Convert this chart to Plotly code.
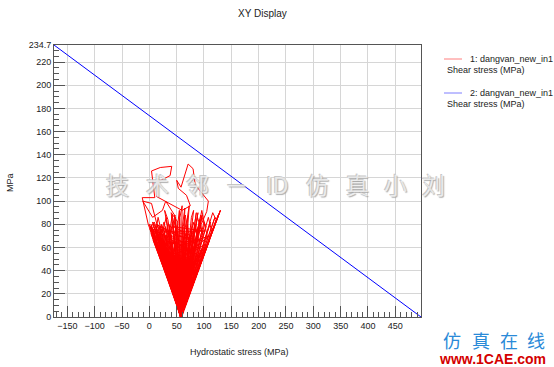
import plotly.graph_objects as go

# ---------------- data ----------------
# Series 1: dangvan_new_in1 Shear stress (MPa) vs hydrostatic stress (MPa) - red loading path
red_x = [
    58, 0, 4, 57, 8, 59, 12, 16, 58, 20,
    57, 24, 28, 58, 32, 59, 36, 30, 58, 40,
    56, 44, 38, 58, 48, 60, 50, 46, 57, 2,
    58, 6, 10, 59, 14, 58, 18, 22, 57, 26,
    58, 30, 34, 60, 38, 58, 42, 36, 57, 46,
    58, 52, 56, 59, 62, 58, 66, 62, 57, 70,
    58, 74, 70, 60, 78, 58, 82, 76, 57, 86,
    58, 90, 84, 59, 94, 58, 98, 92, 57, 102,
    58, 106, 100, 60, 110, 58, 114, 108, 57, 118,
    58, 122, 116, 59, 126, 58, 130, 58, 1, 9,
    57, 13, 5, 58, 17, 21, 59, 25, 19, 58,
    29, 23, 57, 33, 27, 58, 37, 31, 59, 41,
    35, 58, 45, 39, 57, 49, 43, 58, 53, 47,
    59, 55, 50, 58, 64, 60, 57, 68, 64, 58,
    72, 68, 59, 76, 72, 58, 80, 74, 57, 84,
    78, 58, 88, 80, 59, 96, 88, 58, 104, 94,
    57, 112, 58, 120, 58, 3, 11, 59, 7, 15,
    58, 19, 27, 57, 23, 31, 58, 35, 43, 59,
    39, 47, 58, 51, 55, 57, 61, 65, 58, 69,
    73, 59, 77, 81, 58, 85, 89, 57, 93, 97,
    58, 44, 48, 59, 52, 40, 58, 56, 60, 57,
    66, 62, 58, 34, 28, 59, 16, 12, 58, 6,
    57, 64, 70, 58, 82, 86, 59, 101, 96, 58,
    42, 50, 57, 18, 22, 58, 30, 26, 59, 54,
    48, 58, 60, 66, 57, 74, 70, 58, 90, 84,
    59, 24, 14, 58, 8, 3, 57, 36, 42, 58,
    12, 72, 20, 80, 26, 66, 34, 88, 40, 62,
    8, 76, 16, 84, 24, 70, 30, 92, 38, 64,
    44, 96, 48, 60, 50, 100, 42, 78, 18, 68,
    28, 86, 36, 74, 14, 82, 22, 90, 32, 66,
    6, 94, 46, 72, 10, 98, 52, 104, 40, 58,
    3, 60, 26, 80, 46, 110, 56, 20, 70, 36,
    96, 50, 12, 84, 62, 30, 102, 44, 76, 58,
    -2, -13, 10, 4, 20, 41, 38, 17, 13, 41,
    60, 75, 68, 53, 50, 58, 71, 80, 84, 108,
    105, 95, 58, 4, -12, 6, 24, 30, 46, 58,
    88, 96, 58, 130, 58]
red_y = [
    0, 80, 74, 1, 70, 0, 64, 72, 2, 60,
    0, 56, 66, 1, 50, 3, 58, 70, 0, 46,
    2, 52, 64, 0, 44, 1, 58, 70, 0, 78,
    1, 76, 80, 0, 70, 2, 78, 68, 0, 76,
    1, 62, 74, 0, 54, 2, 66, 80, 1, 60,
    0, 48, 62, 2, 40, 0, 54, 68, 1, 46,
    0, 58, 72, 2, 50, 0, 62, 76, 3, 54,
    0, 66, 80, 1, 58, 0, 70, 84, 2, 60,
    0, 70, 82, 1, 66, 0, 74, 86, 2, 78,
    0, 84, 90, 1, 88, 0, 92, 2, 76, 82,
    0, 66, 70, 1, 62, 74, 0, 58, 66, 2,
    54, 62, 0, 48, 60, 1, 44, 56, 0, 40,
    52, 2, 38, 50, 0, 36, 48, 1, 32, 44,
    0, 40, 52, 2, 36, 48, 0, 44, 56, 1,
    50, 64, 0, 56, 68, 2, 60, 70, 0, 64,
    74, 1, 70, 82, 0, 74, 86, 2, 78, 88,
    0, 82, 1, 86, 0, 72, 76, 2, 66, 80,
    0, 70, 82, 1, 72, 86, 0, 66, 82, 2,
    72, 88, 0, 76, 92, 1, 80, 94, 0, 84,
    96, 2, 86, 92, 0, 78, 90, 1, 82, 88,
    0, 76, 86, 1, 82, 90, 0, 86, 96, 2,
    88, 78, 0, 84, 92, 1, 86, 74, 0, 82,
    2, 74, 86, 0, 76, 90, 1, 80, 92, 0,
    62, 74, 1, 64, 80, 0, 78, 68, 2, 66,
    80, 0, 60, 72, 1, 64, 80, 0, 74, 60,
    2, 66, 76, 0, 74, 80, 1, 70, 88, 0,
    68, 22, 64, 30, 58, 14, 54, 40, 46, 8,
    72, 26, 66, 36, 60, 18, 56, 44, 50, 12,
    40, 50, 34, 6, 30, 56, 42, 32, 62, 20,
    52, 46, 44, 24, 70, 38, 58, 48, 48, 16,
    76, 52, 36, 28, 74, 58, 26, 62, 54, 2,
    78, 40, 70, 50, 60, 70, 50, 76, 62, 64,
    66, 70, 80, 64, 72, 74, 74, 78, 70, 0,
    80, 103, 103, 126, 129, 130, 122, 117, 104, 97,
    92, 96, 105, 111, 118, 112, 132, 128, 114, 100,
    91, 80, 0, 98, 100, 86, 92, 100, 88, 0,
    76, 86, 0, 92, 0]

# Series 2: dangvan_new_in1 Shear stress (MPa) - blue Dang Van limit line
blue_x = [-174.4, 497.0]
blue_y = [234.7, 0.0]

x_ticks = [-150, -100, -50, 0, 50, 100, 150, 200, 250, 300, 350, 400, 450]
y_ticks = [0, 20, 40, 60, 80, 100, 120, 140, 160, 180, 200, 220, 234.7]
y_tick_text = ["0", "20", "40", "60", "80", "100", "120", "140", "160", "180", "200", "220", "234.7"]

legend_main = ["1: dangvan_new_in1", "2: dangvan_new_in1"]
legend_sub = ["Shear stress (MPa)", "Shear stress (MPa)"]

FONT = "Liberation Sans"

fig = go.Figure()
fig.add_trace(go.Scatter(x=red_x, y=red_y, mode="lines", line=dict(color="#ff0000", width=1),
                         name=legend_main[0], showlegend=False))
fig.add_trace(go.Scatter(x=blue_x, y=blue_y, mode="lines", line=dict(color="#0000ff", width=1),
                         name=legend_main[1], showlegend=False))

axis_common = dict(showline=True, linecolor="#555555", linewidth=1, mirror=True,
                   showgrid=True, gridcolor="#d6d6d6", gridwidth=1, zeroline=False,
                   ticks="inside", ticklen=11, tickcolor="#555555", tickwidth=1,
                   tickfont=dict(family=FONT, size=9, color="#222222"))

fig.update_xaxes(range=[-174.4, 497.0], tickmode="array", tickvals=x_ticks,
                 minor=dict(tickmode="linear", tick0=0, dtick=10, ticks="inside", ticklen=5,
                            tickcolor="#555555", showgrid=False),
                 **axis_common)
fig.update_yaxes(range=[0, 234.7], tickmode="array", tickvals=y_ticks, ticktext=y_tick_text,
                 minor=dict(tickmode="linear", tick0=0, dtick=5, ticks="inside", ticklen=5,
                            tickcolor="#555555", showgrid=False),
                 **axis_common)

fig.update_layout(
    width=554, height=367,
    margin=dict(l=54, r=133, t=45, b=50),
    paper_bgcolor="white", plot_bgcolor="white",
    font=dict(family=FONT, size=10, color="#222222"),
)

pw, ph = 421 - 54, 317 - 45
def px(xp):
    return (xp - 54) / pw
def py(yp):
    return (317 - yp) / ph

def txt(text, x, y, size=9, color="#222222", family=FONT, xanchor="center", angle=0, **kw):
    return dict(text=text, x=px(x), y=py(y), xref="paper", yref="paper", showarrow=False,
                xanchor=xanchor, yanchor="middle", textangle=angle,
                font=dict(family=family, size=size, color=color, **kw))

ann = []
ann.append(txt("XY Display", 262, 14, size=10))
ann.append(txt("Hydrostatic stress (MPa)", 239, 352))
ann.append(txt("MPa", 10, 183, angle=-90))

# legend
leg_colors = ["#ff0000", "#0000ff"]
leg_y = [59, 93]
shapes = []
for i in range(2):
    shapes.append(dict(type="line", xref="paper", yref="paper", x0=px(444), x1=px(462),
                       y0=py(leg_y[i]), y1=py(leg_y[i]),
                       line=dict(color=leg_colors[i], width=1), opacity=0.5))
    ann.append(txt(legend_main[i], 468, leg_y[i], xanchor="left"))
    ann.append(txt(legend_sub[i], 445, leg_y[i] + 11, xanchor="left"))

# watermarks
wm_chars = ["技", "术", "邻", "－", "ID", "仿", "真", "小", "刘"]
wm_x = [117, 157, 197, 236, 277, 317, 357, 395, 433]
for ch, xx in zip(wm_chars, wm_x):
    ann.append(txt(ch, xx, 184, size=23, family="Noto Sans CJK SC", color="rgba(240,240,240,0.85)",
                   shadow="1px 1px 1px #a0a0a0, -1px -1px 0px #bdbdbd"))
brand_chars = ["仿", "真", "在", "线"]
brand_x = [452, 481, 509, 536]
for ch, xx in zip(brand_chars, brand_x):
    ann.append(txt(ch, xx, 340, size=18, family="Noto Sans CJK SC", color="#2a8ad8"))
ann.append(txt("<b>www.1CAE.com</b>", 492, 359, size=14, color="#d40000"))

fig.update_layout(annotations=ann, shapes=shapes)
fig.write_html("out.html", config={"displayModeBar": False},
               post_script="document.body.style.margin='0px';document.body.style.overflow='hidden';")
